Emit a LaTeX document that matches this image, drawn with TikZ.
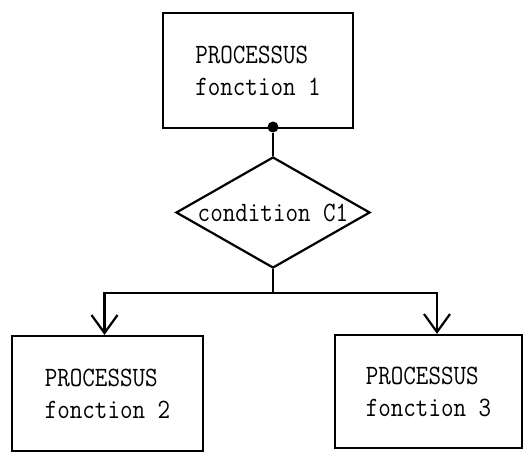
\documentclass[tikz,border=0pt]{standalone}
\usepackage{fontspec}
\newfontfamily\typew[FakeStretch=0.87]{Latin Modern Mono}
\usepackage{tikz}
\usetikzlibrary{arrows.meta, positioning, calc, shapes.geometric}
\tikzset{
  procbox/.style={draw, minimum width=190pt, minimum height=115pt, align=left, line width=2.2pt},
  cond/.style={draw, diamond, minimum width=194pt, minimum height=111pt, inner sep=0pt, line width=2.2pt},
  dot/.style={circle, fill, inner sep=0pt, minimum size=11pt},
  link/.style={-{Straight Barb[length=18pt, width=26pt]}, line width=2.2pt},
  wire/.style={line width=2.2pt}
}
\begin{document}
\begin{tikzpicture}[x=1pt, y=-1pt, font=\typew\fontsize{28}{32}\selectfont]
        \useasboundingbox (0,0) rectangle (524,452);

        % Process boxes
        \node[procbox] (proc1) at (258,70.5) {PROCESSUS\\fonction 1};
        \node[procbox, minimum width=191pt] (proc2) at (107.5,393.5) {PROCESSUS\\fonction 2};
        \node[procbox, minimum width=187pt, minimum height=113pt] (proc3) at (428.5,391.5) {PROCESSUS\\fonction 3};

        % Condition
        \node[dot] (out1) at (273,127) {};
        \node[cond] (cond1) at (273,212.5) {};
        \node at (cond1) {condition C1};
        \coordinate (split) at (273,293);

        % Links
        \draw[wire] (out1) -- (cond1.north);
        \draw[wire] (cond1.south) -- (split);
        \draw[link] (split) -| ([xshift=-3]proc2.north);
        \draw[link] (split) -| ([xshift=8.5]proc3.north);
    \end{tikzpicture}
\end{document}
